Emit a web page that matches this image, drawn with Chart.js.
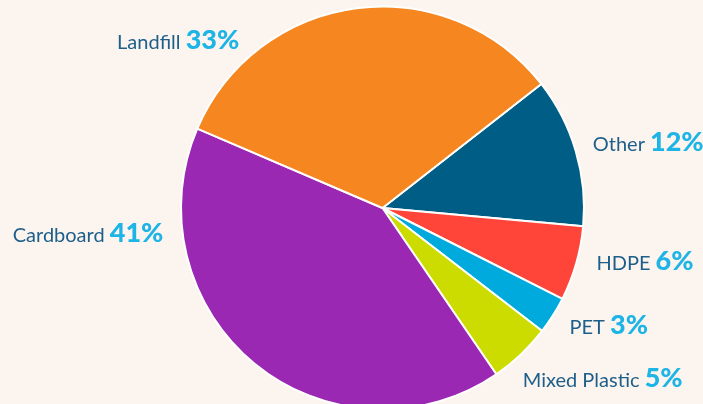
<!DOCTYPE html>
<html>
<head>
<meta charset="utf-8">
<script src="https://cdn.jsdelivr.net/npm/chart.js@4"></script>
<style>
  html, body { margin: 0; padding: 0; background: #fcf4ee; overflow: hidden; }
  #wrap { width: 703px; height: 404px; overflow: hidden; }
</style>
</head>
<body>
<div id="wrap"><canvas id="wasteChart" width="703" height="416"></canvas></div>
<script>
// Waste composition (clockwise from the Other/Landfill edge)
const categories = ["Other", "HDPE", "PET", "Mixed Plastic", "Cardboard", "Landfill"];
const shares = [12, 6, 3, 5, 41, 33];
const sliceColors = ["#005e86", "#ff453a", "#00aadc", "#cddc00", "#9a28b3", "#f58620"];
// where each label sits around the pie (degrees, 0 = 3 o'clock, clockwise)
const labelAngles = [-17.5, 14, 32, 50.5, 173.5, -130.5];

const outsideLabels = {
    id: "outsideLabels",
    afterDraw(chart) {
        const ctx = chart.ctx;
        const arcs = chart.getDatasetMeta(0).data;
        ctx.save();
        ctx.textBaseline = "alphabetic";
        arcs.forEach((arc, i) => {
            const a = labelAngles[i] * Math.PI / 180;
            const r = arc.outerRadius + 19;
            const x = arc.x + Math.cos(a) * r;
            const y = arc.y + Math.sin(a) * r + 9;
            const name = categories[i] + " ";
            const pct = shares[i] + "%";
            ctx.font = "20px Lato";
            const nameW = ctx.measureText(name).width;
            ctx.font = "900 27px Lato";
            const pctW = ctx.measureText(pct).width;
            const startX = Math.cos(a) >= 0 ? x : x - nameW - pctW;
            ctx.textAlign = "left";
            ctx.font = "20px Lato";
            ctx.fillStyle = "#1d5f8a";
            ctx.fillText(name, startX, y);
            ctx.font = "900 27px Lato";
            ctx.fillStyle = "#1db4e6";
            ctx.fillText(pct, startX + nameW, y);
        });
        ctx.restore();
    }
};

new Chart(document.getElementById("wasteChart").getContext("2d"), {
    type: "pie",
    data: {
        labels: categories,
        datasets: [
            {
                data: shares,
                backgroundColor: sliceColors,
                borderColor: "#ffffff",
                borderWidth: 2,
            },
        ],
    },
    options: {
        responsive: false,
        animation: false,
        rotation: 52,
        layout: {
            padding: { top: 5, bottom: 5, left: 180, right: 118 },
        },
        plugins: {
            legend: { display: false },
            tooltip: { enabled: false },
        },
    },
    plugins: [outsideLabels],
});
</script>
</body>
</html>
